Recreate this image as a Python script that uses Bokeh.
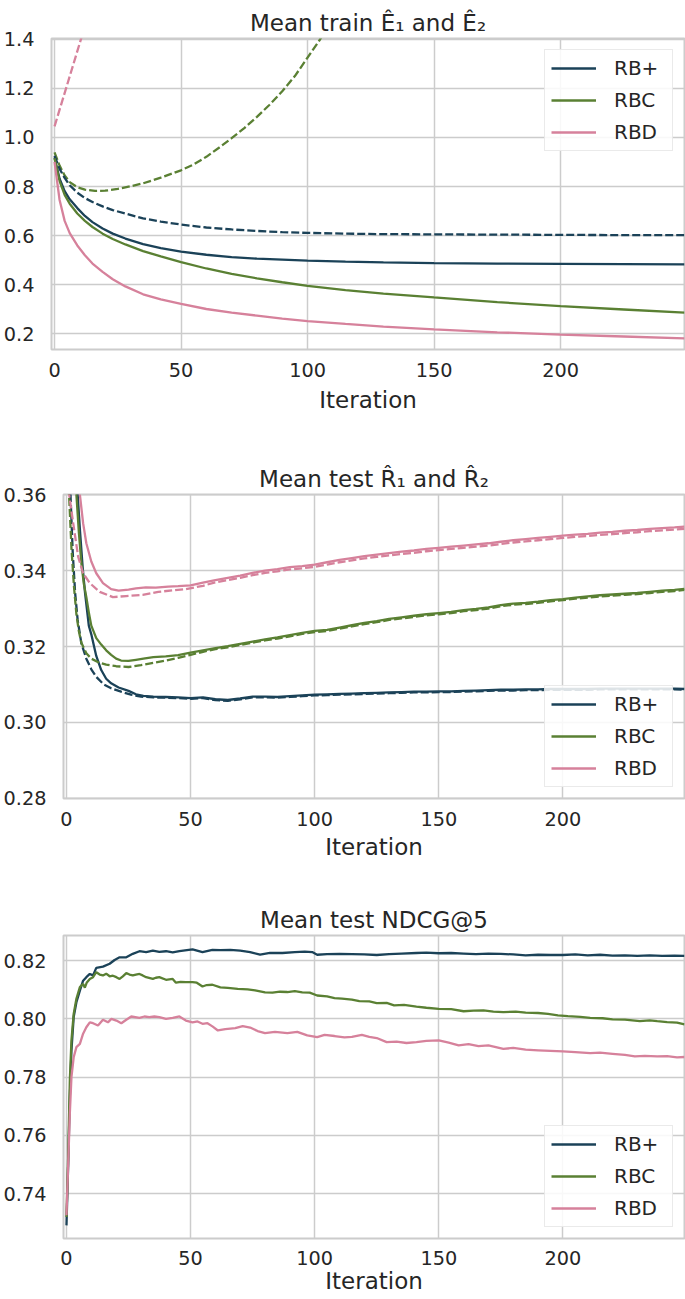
from bokeh.plotting import figure
from bokeh.models import Range1d, FixedTicker, PrintfTickFormatter, Legend, LegendItem
from bokeh.layouts import column, row
from bokeh.embed import file_html
from bokeh.resources import INLINE

# ---------------- data ----------------
METHODS = ["RB+", "RBC", "RBD"]
X_TICKS = [0, 50, 100, 150, 200]
TRAIN_Y_TICKS = [0.2, 0.4, 0.6, 0.8, 1.0, 1.2, 1.4]
TEST_R_Y_TICKS = [0.28, 0.30, 0.32, 0.34, 0.36]
NDCG_Y_TICKS = [0.74, 0.76, 0.78, 0.80, 0.82]

TRAIN_ITERS = [0, 2, 4, 6, 9, 12, 15, 19, 23, 28, 35, 42, 50, 60, 70, 80, 90, 100,
               115, 130, 150, 175, 200, 225, 249]
TRAIN_E1_RBP = [0.918, 0.832, 0.781, 0.748, 0.712, 0.680, 0.655, 0.629, 0.608, 0.588, 0.565,
                0.549, 0.535, 0.522, 0.512, 0.506, 0.502, 0.498, 0.494, 0.491, 0.488, 0.486,
                0.485, 0.484, 0.483]
TRAIN_E2_RBP = [0.925, 0.872, 0.835, 0.805, 0.775, 0.753, 0.737, 0.719, 0.704, 0.690, 0.670,
                0.657, 0.645, 0.633, 0.625, 0.619, 0.614, 0.611, 0.608, 0.606, 0.605, 0.604,
                0.603, 0.602, 0.602]
TRAIN_E1_RBC = [0.915, 0.822, 0.766, 0.730, 0.690, 0.660, 0.635, 0.608, 0.586, 0.564, 0.537,
                0.515, 0.492, 0.466, 0.444, 0.426, 0.410, 0.395, 0.378, 0.364, 0.348, 0.329,
                0.313, 0.299, 0.286]
TRAIN_E1_RBD = [0.900, 0.745, 0.660, 0.610, 0.560, 0.520, 0.486, 0.452, 0.422, 0.393, 0.361,
                0.340, 0.322, 0.301, 0.286, 0.274, 0.262, 0.252, 0.240, 0.229, 0.218, 0.206,
                0.197, 0.189, 0.181]
TRAIN_E2_RBC_ITERS = [0, 2, 4, 6, 9, 12, 16, 20, 25, 30, 35, 42, 50, 55, 60, 65, 70, 75, 80,
                      85, 90, 95, 100, 105, 110, 115]
TRAIN_E2_RBC = [0.939, 0.885, 0.845, 0.818, 0.797, 0.787, 0.782, 0.783, 0.790, 0.801, 0.813,
                0.836, 0.866, 0.890, 0.921, 0.958, 0.997, 1.038, 1.084, 1.133, 1.188, 1.250,
                1.325, 1.400, 1.485, 1.575]
TRAIN_E2_RBD_ITERS = [0, 5, 10, 15]
TRAIN_E2_RBD = [1.045, 1.215, 1.385, 1.555]

# test R_hat_1 (solid) and R_hat_2 (dashed): (iteration, value)
TEST_R1_RBP = [(0, 0.600), (2, 0.440), (3.5, 0.375), (4.5, 0.360), (5.5, 0.350), (6.5, 0.341),
               (7.5, 0.334), (9, 0.3255), (10, 0.3232), (12, 0.3175), (14, 0.3138), (16, 0.3115),
               (18, 0.3103), (21, 0.3092), (25, 0.3083), (28, 0.3074), (31, 0.3070), (35, 0.3068),
               (40, 0.3067), (45, 0.3066), (50, 0.3064), (55, 0.3066), (60, 0.3061), (65, 0.3059),
               (70, 0.3063), (75, 0.3068), (80, 0.3068), (85, 0.3067), (90, 0.3069), (95, 0.3071),
               (100, 0.3073), (105, 0.3074), (110, 0.3075), (115, 0.3076), (120, 0.3077),
               (125, 0.3078), (130, 0.3079), (135, 0.3080), (140, 0.3081), (145, 0.3081),
               (150, 0.3082), (155, 0.3082), (160, 0.3083), (165, 0.3084), (170, 0.3085),
               (175, 0.3086), (180, 0.3086), (185, 0.3087), (190, 0.3087), (195, 0.3088),
               (200, 0.3088), (205, 0.3088), (210, 0.3088), (215, 0.3089), (220, 0.3089),
               (225, 0.3089), (230, 0.3089), (235, 0.3089), (240, 0.3089), (245, 0.3089),
               (249, 0.3088)]
TEST_R2_RBP = [(0, 0.450), (1, 0.380), (1.5, 0.362), (2.5, 0.345), (3.5, 0.334), (4.5, 0.327),
               (6, 0.3208), (8, 0.3168), (10, 0.3140), (12, 0.3120), (15, 0.3100), (18, 0.3090),
               (22, 0.3081), (26, 0.3073), (30, 0.3068), (35, 0.3066), (40, 0.3065), (45, 0.3064),
               (50, 0.3062), (55, 0.3064), (60, 0.3059), (65, 0.3057), (70, 0.3061), (75, 0.3066),
               (80, 0.3066), (85, 0.3065), (90, 0.3067), (95, 0.3069), (100, 0.3071),
               (105, 0.3072), (110, 0.3073), (115, 0.3074), (120, 0.3075), (125, 0.3076),
               (130, 0.3077), (135, 0.3078), (140, 0.3079), (145, 0.3079), (150, 0.3080),
               (155, 0.3080), (160, 0.3081), (165, 0.3082), (170, 0.3083), (175, 0.3084),
               (180, 0.3084), (185, 0.3085), (190, 0.3085), (195, 0.3086), (200, 0.3086),
               (205, 0.3086), (210, 0.3086), (215, 0.3087), (220, 0.3087), (225, 0.3087),
               (230, 0.3087), (235, 0.3087), (240, 0.3087), (245, 0.3087), (249, 0.3086)]
TEST_R1_RBC = [(0, 0.580), (2, 0.430), (3, 0.380), (3.8, 0.362), (5, 0.350), (6, 0.342),
               (7, 0.3365), (8, 0.3330), (9, 0.3290), (10, 0.3255), (12, 0.3222), (14, 0.3205),
               (16, 0.3190), (18, 0.3178), (20, 0.3168), (22, 0.3163), (25, 0.3162), (28, 0.3165),
               (31, 0.3168), (35, 0.3172), (40, 0.3174), (45, 0.3177), (50, 0.3184), (55, 0.3190),
               (60, 0.3196), (65, 0.3201), (70, 0.3207), (75, 0.3213), (80, 0.3219), (85, 0.3224),
               (90, 0.3230), (95, 0.3236), (100, 0.3241), (105, 0.3244), (110, 0.3250),
               (115, 0.3256), (120, 0.3262), (125, 0.3267), (130, 0.3273), (135, 0.3277),
               (140, 0.3281), (145, 0.3285), (150, 0.3288), (155, 0.3291), (160, 0.3296),
               (165, 0.3299), (170, 0.3303), (175, 0.3309), (180, 0.3313), (185, 0.3315),
               (190, 0.3318), (195, 0.3322), (200, 0.3325), (205, 0.3329), (210, 0.3332),
               (215, 0.3335), (220, 0.3337), (225, 0.3339), (230, 0.3341), (235, 0.3344),
               (240, 0.3347), (245, 0.3349), (249, 0.3352)]
TEST_R2_RBC = [(0, 0.420), (0.9, 0.362), (2, 0.346), (3, 0.336), (4, 0.3285), (5, 0.3240),
               (6, 0.3210), (8, 0.3182), (10, 0.3168), (13, 0.3158), (16, 0.3152), (20, 0.3148),
               (25, 0.3146), (30, 0.3151), (35, 0.3157), (40, 0.3163), (45, 0.3170), (50, 0.3178),
               (55, 0.3186), (60, 0.3193), (65, 0.3198), (70, 0.3204), (75, 0.3210), (80, 0.3216),
               (85, 0.3221), (90, 0.3227), (95, 0.3233), (100, 0.3238), (105, 0.3241),
               (110, 0.3247), (115, 0.3253), (120, 0.3259), (125, 0.3264), (130, 0.3270),
               (135, 0.3274), (140, 0.3278), (145, 0.3282), (150, 0.3285), (155, 0.3288),
               (160, 0.3293), (165, 0.3296), (170, 0.3300), (175, 0.3306), (180, 0.3310),
               (185, 0.3312), (190, 0.3315), (195, 0.3319), (200, 0.3322), (205, 0.3326),
               (210, 0.3329), (215, 0.3332), (220, 0.3334), (225, 0.3336), (230, 0.3338),
               (235, 0.3341), (240, 0.3344), (245, 0.3346), (249, 0.3349)]
TEST_R1_RBD = [(0, 0.620), (2, 0.450), (4, 0.375), (5.4, 0.360), (6.7, 0.3525), (8, 0.3472),
               (10, 0.3424), (12, 0.3393), (14.7, 0.3367), (18, 0.3351), (21, 0.3347),
               (25, 0.3350), (28, 0.3353), (32, 0.3356), (36, 0.3355), (41, 0.3358), (45, 0.3359),
               (50, 0.3361), (55, 0.3368), (60, 0.3375), (65, 0.3381), (70, 0.3387), (75, 0.3394),
               (80, 0.3400), (85, 0.3404), (90, 0.3409), (95, 0.3412), (100, 0.3416),
               (105, 0.3422), (110, 0.3428), (115, 0.3433), (120, 0.3438), (125, 0.3442),
               (130, 0.3446), (135, 0.3450), (140, 0.3453), (145, 0.3457), (150, 0.3460),
               (155, 0.3463), (160, 0.3466), (165, 0.3469), (170, 0.3472), (175, 0.3476),
               (180, 0.3480), (185, 0.3483), (190, 0.3486), (195, 0.3489), (200, 0.3492),
               (205, 0.3495), (210, 0.3497), (215, 0.3500), (220, 0.3502), (225, 0.3505),
               (230, 0.3507), (235, 0.3510), (240, 0.3512), (245, 0.3514), (249, 0.3516)]
TEST_R2_RBD = [(0, 0.370), (1.1, 0.360), (2.7, 0.3525), (4.7, 0.3437), (6.7, 0.3393),
               (9.4, 0.3367), (13.4, 0.3344), (18.7, 0.3330), (24, 0.3333), (30.7, 0.3336),
               (37, 0.3344), (43, 0.3348), (48, 0.3351), (55, 0.3360), (60, 0.3369), (65, 0.3375),
               (70, 0.3381), (75, 0.3388), (80, 0.3394), (85, 0.3398), (90, 0.3403), (95, 0.3406),
               (100, 0.3410), (105, 0.3416), (110, 0.3422), (115, 0.3427), (120, 0.3432),
               (125, 0.3436), (130, 0.3440), (135, 0.3444), (140, 0.3447), (145, 0.3451),
               (150, 0.3454), (155, 0.3457), (160, 0.3460), (165, 0.3463), (170, 0.3466),
               (175, 0.3470), (180, 0.3474), (185, 0.3477), (190, 0.3480), (195, 0.3483),
               (200, 0.3486), (205, 0.3489), (210, 0.3491), (215, 0.3494), (220, 0.3496),
               (225, 0.3499), (230, 0.3501), (235, 0.3504), (240, 0.3506), (245, 0.3508),
               (249, 0.3510)]

# test NDCG@5: (iteration, value)
NDCG_RBP = [(0, 0.7291), (0.7, 0.7503), (1.35, 0.7731), (2, 0.7891), (2.9, 0.8006), (4, 0.8057),
            (5.4, 0.8097), (6.7, 0.8131), (8, 0.8143), (9.4, 0.8154), (10.7, 0.8149), (12, 0.8175),
            (14.7, 0.8179), (17.4, 0.8189), (19.4, 0.8202), (21.4, 0.8211), (24.1, 0.8211),
            (26.7, 0.8223), (29.4, 0.8232), (32.1, 0.8229), (34.8, 0.8234), (37.4, 0.8230),
            (40.1, 0.8232), (42.8, 0.8228), (45.5, 0.8232), (50.8, 0.8238), (54.8, 0.8229),
            (58.8, 0.8237), (62, 0.8236), (66, 0.8237), (70, 0.8234), (74, 0.8229), (78, 0.8220),
            (82, 0.8226), (87, 0.8226), (92, 0.8229), (96, 0.8231), (99, 0.8229), (101, 0.8220),
            (105, 0.8222), (110, 0.8223), (115, 0.8222), (120, 0.8221), (125, 0.8219),
            (130, 0.8222), (135, 0.8224), (141, 0.8226), (145, 0.8227), (150, 0.8225),
            (155, 0.8226), (160, 0.8224), (165, 0.8222), (170, 0.8224), (175, 0.8223),
            (180, 0.8221), (185, 0.8218), (190, 0.8220), (195, 0.8219), (200, 0.8219),
            (205, 0.8221), (210, 0.8218), (215, 0.8220), (220, 0.8217), (225, 0.8218),
            (230, 0.8216), (235, 0.8218), (240, 0.8216), (245, 0.8217), (249, 0.8216)]
NDCG_RBC = [(0, 0.7320), (0.7, 0.7530), (1.35, 0.7789), (2, 0.7926), (2.9, 0.8017), (4, 0.8069),
            (5.4, 0.8109), (6.7, 0.8120), (7.4, 0.8107), (8.2, 0.8125), (9.4, 0.8137),
            (10.7, 0.8143), (12, 0.8160), (13.4, 0.8152), (14.7, 0.8149), (16, 0.8155),
            (17.4, 0.8146), (18.7, 0.8148), (20.1, 0.8143), (21.4, 0.8137), (22.7, 0.8146),
            (24.1, 0.8157), (25.4, 0.8152), (26.7, 0.8149), (28, 0.8152), (29.4, 0.8154),
            (30.7, 0.8149), (32.1, 0.8143), (34.8, 0.8137), (36, 0.8141), (37.4, 0.8143),
            (40.1, 0.8134), (42.8, 0.8137), (44.1, 0.8124), (46, 0.8127), (48.1, 0.8126),
            (50.8, 0.8126), (52.5, 0.8124), (54.8, 0.8111), (56.5, 0.8116), (58.8, 0.8117),
            (62, 0.8108), (65, 0.8106), (69, 0.8103), (73, 0.8101), (76, 0.8098), (80, 0.8091),
            (83, 0.8090), (86, 0.8093), (89, 0.8092), (92, 0.8095), (95, 0.8091), (98, 0.8090),
            (101, 0.8080), (105, 0.8077), (108, 0.8071), (111, 0.8069), (115, 0.8066),
            (118, 0.8061), (122, 0.8060), (125, 0.8054), (129, 0.8055), (132, 0.8046),
            (136, 0.8048), (141, 0.8042), (145, 0.8038), (150, 0.8034), (155, 0.8033),
            (160, 0.8026), (164, 0.8028), (168, 0.8029), (172, 0.8025), (176, 0.8023),
            (181, 0.8025), (185, 0.8021), (190, 0.8020), (194, 0.8017), (198, 0.8012),
            (202, 0.8009), (207, 0.8007), (211, 0.8003), (216, 0.8002), (220, 0.7998),
            (225, 0.7997), (231, 0.7992), (235, 0.7995), (238, 0.7992), (242, 0.7989),
            (246, 0.7987), (249, 0.7981)]
NDCG_RBD = [(0, 0.7326), (0.7, 0.7503), (1.35, 0.7674), (2, 0.7800), (2.9, 0.7868), (4, 0.7903),
            (5.4, 0.7914), (6.7, 0.7949), (8, 0.7971), (9.4, 0.7988), (10.7, 0.7985),
            (12.7, 0.7977), (14.7, 0.7997), (16.7, 0.7988), (18.1, 0.8000), (20.1, 0.7994),
            (22.1, 0.7985), (24.1, 0.7997), (26.1, 0.8008), (29.4, 0.8003), (31.4, 0.8008),
            (33.4, 0.8006), (35.4, 0.8008), (37.4, 0.8006), (40.1, 0.8000), (42.8, 0.8003),
            (45.5, 0.8008), (48.1, 0.7994), (50.8, 0.7988), (52.8, 0.7991), (54.8, 0.7983),
            (56.8, 0.7985), (58.8, 0.7974), (61, 0.7960), (64, 0.7965), (68, 0.7968),
            (71, 0.7975), (74, 0.7970), (77, 0.7958), (80, 0.7951), (84, 0.7955), (89, 0.7951),
            (93, 0.7955), (97, 0.7943), (101, 0.7937), (104, 0.7945), (108, 0.7941),
            (112, 0.7936), (115, 0.7938), (119, 0.7945), (122, 0.7938), (125, 0.7934),
            (129, 0.7920), (133, 0.7922), (137, 0.7917), (141, 0.7920), (145, 0.7924),
            (150, 0.7926), (154, 0.7918), (158, 0.7909), (162, 0.7913), (166, 0.7906),
            (170, 0.7909), (173, 0.7903), (176, 0.7897), (180, 0.7900), (185, 0.7894),
            (190, 0.7892), (195, 0.7890), (200, 0.7888), (205, 0.7886), (211, 0.7882),
            (215, 0.7884), (220, 0.7880), (225, 0.7876), (229, 0.7871), (233, 0.7873),
            (238, 0.7871), (242, 0.7872), (246, 0.7868), (249, 0.7869)]

# ---------------- styling ----------------
COLORS = {"RB+": "#1b4258", "RBC": "#5a8033", "RBD": "#d6819b"}
FONT = "DejaVu Sans"
TEXT = "#262626"
GRID = "#cccccc"
LW = 2.3
DASH = "8 3"


def unzip(pairs):
    return [a for a, _ in pairs], [b for _, b in pairs]


def make_fig(title, height, left, top, bottom, yr, yticks, fmt, tick_standoff=13,
             label_standoff=2, title_standoff=6):
    p = figure(width=685, height=height, x_range=Range1d(-1.2, 249), y_range=Range1d(*yr),
               output_backend="svg", toolbar_location=None,
               min_border_left=left, min_border_right=1, min_border_top=top,
               min_border_bottom=bottom, background_fill_color="white",
               border_fill_color="white")
    p.title.text = title
    p.title.text_font = FONT
    p.title.text_font_size = "23px"
    p.title.text_font_style = "normal"
    p.title.text_color = TEXT
    p.title.align = "center"
    p.title.standoff = title_standoff
    p.outline_line_color = GRID
    p.outline_line_width = 2
    for ax in p.axis:
        ax.axis_line_color = None
        ax.major_tick_line_color = None
        ax.minor_tick_line_color = None
        ax.major_tick_out = 0
        ax.major_tick_in = 0
        ax.minor_tick_out = 0
        ax.minor_tick_in = 0
        ax.major_label_text_font = FONT
        ax.major_label_text_font_size = "19.3px"
        ax.major_label_text_color = TEXT
    p.xaxis.ticker = FixedTicker(ticks=X_TICKS)
    p.xaxis.major_label_standoff = tick_standoff
    p.xaxis.axis_label = "Iteration"
    p.xaxis.axis_label_text_font = FONT
    p.xaxis.axis_label_text_font_size = "23px"
    p.xaxis.axis_label_text_font_style = "normal"
    p.xaxis.axis_label_text_color = TEXT
    p.xaxis.axis_label_standoff = label_standoff
    p.yaxis.ticker = FixedTicker(ticks=yticks)
    p.yaxis.formatter = PrintfTickFormatter(format=fmt)
    p.yaxis.major_label_standoff = 17
    p.grid.grid_line_color = GRID
    p.grid.grid_line_width = 1.5
    return p


def add_legend(p, renderers, location):
    items = [LegendItem(label=m, renderers=[r]) for m, r in zip(METHODS, renderers)]
    leg = Legend(items=items, location=location, label_text_font=FONT,
                 label_text_font_size="20px", label_text_color=TEXT, glyph_width=45,
                 glyph_height=24, label_height=24, label_width=52, label_standoff=18,
                 spacing=8, padding=6, margin=11, border_line_color="#d5d5d5",
                 border_line_width=1, background_fill_color="white",
                 background_fill_alpha=0.85)
    p.add_layout(leg)


# ---------------- panel 1 ----------------
p1 = make_fig("Mean train \u00ca\u2081 and \u00ca\u2082", 456, 48, 38, 107, (0.136, 1.403),
              TRAIN_Y_TICKS, "%.1f", label_standoff=7)
p1.line(TRAIN_E2_RBD_ITERS, TRAIN_E2_RBD, line_color=COLORS["RBD"], line_width=LW, line_dash=DASH)
p1.line(TRAIN_E2_RBC_ITERS, TRAIN_E2_RBC, line_color=COLORS["RBC"], line_width=LW, line_dash=DASH)
p1.line(TRAIN_ITERS, TRAIN_E2_RBP, line_color=COLORS["RB+"], line_width=LW, line_dash=DASH)
r1 = [p1.line(TRAIN_ITERS, ys, line_color=COLORS[m], line_width=LW)
      for m, ys in zip(METHODS, [TRAIN_E1_RBP, TRAIN_E1_RBC, TRAIN_E1_RBD])]
add_legend(p1, r1, "top_right")

# ---------------- panel 2 ----------------
p2 = make_fig("Mean test R\u0302\u2081 and R\u0302\u2082", 441, 60, 38, 99, (0.27995, 0.36005),
              TEST_R_Y_TICKS, "%.2f", label_standoff=5)
r2 = []
for m, s1, s2 in zip(METHODS, [TEST_R1_RBP, TEST_R1_RBC, TEST_R1_RBD],
                     [TEST_R2_RBP, TEST_R2_RBC, TEST_R2_RBD]):
    x2, y2 = unzip(s2)
    p2.line(x2, y2, line_color=COLORS[m], line_width=LW, line_dash=DASH)
    x1, y1 = unzip(s1)
    r2.append(p2.line(x1, y1, line_color=COLORS[m], line_width=LW))
add_legend(p2, r2, "bottom_right")

# ---------------- panel 3 ----------------
p3 = make_fig("Mean test NDCG@5", 402, 60, 38, 61, (0.7246, 0.8286), NDCG_Y_TICKS, "%.2f",
              tick_standoff=12, label_standoff=0)
r3 = []
for m, s in zip(METHODS, [NDCG_RBP, NDCG_RBC, NDCG_RBD]):
    xs, ys = unzip(s)
    r3.append(p3.line(xs, ys, line_color=COLORS[m], line_width=LW))
add_legend(p3, r3, "bottom_right")

layout = column(row(p1), row(p2), row(p3))
open("out.html", "w").write(file_html(layout, INLINE))
